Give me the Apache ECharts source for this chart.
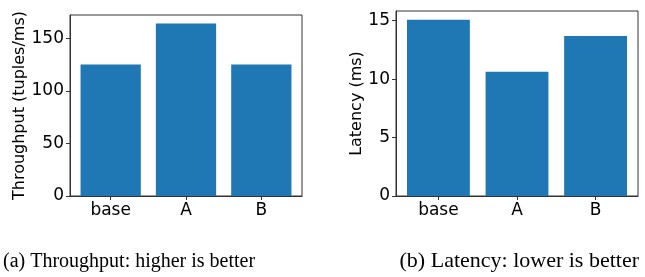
<!DOCTYPE html>
<html>
<head>
<meta charset="utf-8">
<title>Throughput / Latency</title>
<script src="https://cdn.jsdelivr.net/npm/echarts@6/dist/echarts.min.js"></script>
<style>
	html, body { margin: 0; padding: 0; background: #fff; }
	#chart { width: 645px; height: 277px; }
</style>
</head>
<body>
<div id="chart"></div>
<script>
	/*数据*/
	var categories = ['base', 'A', 'B'];
	var throughputValues = [125, 164, 125];
	var latencyValues = [15.07, 10.62, 13.69];
	var throughputTickStep = 50;//刻度 0,50,100,150
	var latencyTickStep = 5;//刻度 0,5,10,15

	var FONT = 'DejaVu Sans';
	var BAR_COLOR = '#1f77b4';
	var AXIS_COLOR = '#333';

	/*两个子图的位置*/
	var gridA = {left: 70, top: 15, width: 232, height: 181};
	var gridB = {left: 396, top: 11, width: 242, height: 185};

	/*x轴范围跟matplotlib一样: 柱宽0.8, 两边各留5%*/
	var X_MIN = -0.54, X_MAX = 2.54, BAR_W = 0.8;

	function toPairs(values){
		var arr = [];
		for (var i = 0; i < values.length; i++) {
			arr.push([i, values[i]]);
		}
		return arr;
	}

	function xAxisOf(gridIndex){
		var idx = [];
		for (var i = 0; i < categories.length; i++) idx.push(i);
		return {
			type : 'value',
			gridIndex : gridIndex,
			min : X_MIN,
			max : X_MAX,
			splitLine : {show : false},
			axisLine : {show : true, onZero : false, lineStyle : {color : AXIS_COLOR, width : 1}},
			axisTick : {show : true, length : 4, customValues : idx, lineStyle : {color : AXIS_COLOR}},
			axisLabel : {
				customValues : idx,
				margin : 6,
				fontFamily : FONT,
				fontSize : 17,
				color : '#000',
				formatter : function (v) { return categories[Math.round(v)]; }
			}
		};
	}

	function yAxisOf(gridIndex, maxVal, step, name, nameGap){
		return {
			type : 'value',
			gridIndex : gridIndex,
			min : 0,
			max : maxVal * 1.05,//matplotlib默认留5%
			interval : step,
			name : name,
			nameLocation : 'middle',
			nameGap : nameGap,
			nameTextStyle : {fontFamily : FONT, fontSize : 16, color : '#000'},
			splitLine : {show : false},
			axisLine : {show : true, onZero : false, lineStyle : {color : AXIS_COLOR, width : 1}},//不要跟着x=0走
			axisTick : {show : true, length : 4, lineStyle : {color : AXIS_COLOR}},
			axisLabel : {
				showMaxLabel : false,
				margin : 6,
				fontFamily : FONT,
				fontSize : 17,
				color : '#000'
			}
		};
	}

	function boxGrid(g){
		return {
			left : g.left, top : g.top, width : g.width, height : g.height,
			show : true,
			borderColor : AXIS_COLOR,
			borderWidth : 1,
			containLabel : false
		};
	}

	var myChart = echarts.init(document.getElementById('chart'), null, {renderer : 'canvas'});

	var maxA = Math.max.apply(null, throughputValues);
	var maxB = Math.max.apply(null, latencyValues);

	var option = {
		animation : false,
		backgroundColor : '#fff',
		grid : [boxGrid(gridA), boxGrid(gridB)],
		xAxis : [xAxisOf(0), xAxisOf(1)],
		yAxis : [
			yAxisOf(0, maxA, throughputTickStep, 'Throughput (tuples/ms)', 40),
			yAxisOf(1, maxB, latencyTickStep, 'Latency (ms)', 29)
		],
		series : [{
			type : 'bar',
			xAxisIndex : 0,
			yAxisIndex : 0,
			barWidth : BAR_W * gridA.width / (X_MAX - X_MIN),
			itemStyle : {color : BAR_COLOR},
			data : toPairs(throughputValues)
		}, {
			type : 'bar',
			xAxisIndex : 1,
			yAxisIndex : 1,
			barWidth : BAR_W * gridB.width / (X_MAX - X_MIN),
			itemStyle : {color : BAR_COLOR},
			data : toPairs(latencyValues)
		}],
		graphic : [{
			type : 'text',
			left : 3,
			top : 252,
			style : {
				text : '(a) Throughput: higher is better',
				font : '20px "Liberation Serif"',
				fill : '#000'
			}
		}, {
			type : 'text',
			right : 6,
			top : 250,
			style : {
				text : '(b) Latency: lower is better',
				font : '22px "Liberation Serif"',
				fill : '#000'
			}
		}]
	};

	myChart.setOption(option);
</script>
</body>
</html>
